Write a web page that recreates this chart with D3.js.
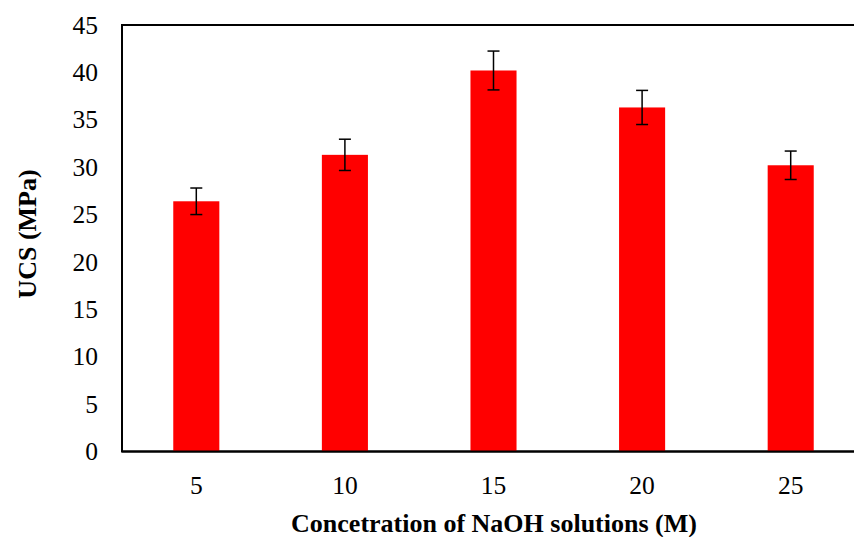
<!DOCTYPE html>
<html>
<head>
<meta charset="utf-8">
<script src="https://cdn.jsdelivr.net/npm/d3@7"></script>
<style>
  html, body { margin: 0; padding: 0; background: #fff; }
  svg { display: block; }
</style>
</head>
<body>
<svg id="chart" width="854" height="537" font-family="Liberation Serif, Times New Roman, DejaVu Serif, serif"></svg>
<script>
const categories = ["5", "10", "15", "20", "25"];
const ucsValues = [26.4, 31.3, 40.2, 36.3, 30.2];
const errorValues = [1.4, 1.65, 2.05, 1.8, 1.5];
const yTicks = [0, 5, 10, 15, 20, 25, 30, 35, 40, 45];
const xTitle = "Concetration of NaOH solutions (M)";
const yTitle = "UCS (MPa)";

(function () {
const FONT = "Liberation Serif, Times New Roman, DejaVu Serif, serif";
const svg = d3.select("#chart");
const pLeft = 122, pRight = 865, pTop = 25, pBottom = 451.5;

const x = d3.scaleBand().domain(categories).range([pLeft, pRight]).paddingInner(0.69).paddingOuter(0.345);
const y = d3.scaleLinear().domain([0, 45]).range([pBottom, pTop]);

// frame
svg.append("rect")
  .attr("x", pLeft).attr("y", pTop)
  .attr("width", 1000).attr("height", pBottom - pTop)
  .attr("fill", "none").attr("stroke", "#000").attr("stroke-width", 2);

// bars
svg.append("g").selectAll("rect").data(categories).join("rect")
  .attr("x", d => x(d))
  .attr("y", (d, i) => y(ucsValues[i]))
  .attr("width", x.bandwidth())
  .attr("height", (d, i) => y(0) - y(ucsValues[i]))
  .attr("fill", "#ff0000");

// error bars
const eg = svg.append("g").attr("stroke", "#000").attr("stroke-width", 1.5);
categories.forEach((c, i) => {
  const cx = x(c) + x.bandwidth() / 2;
  const y1 = y(ucsValues[i] + errorValues[i]);
  const y2 = y(ucsValues[i] - errorValues[i]);
  eg.append("line").attr("x1", cx).attr("x2", cx).attr("y1", y1).attr("y2", y2);
  eg.append("line").attr("x1", cx - 6).attr("x2", cx + 6).attr("y1", y1).attr("y2", y1);
  eg.append("line").attr("x1", cx - 6).attr("x2", cx + 6).attr("y1", y2).attr("y2", y2);
});

// axis lines on top
svg.append("line").attr("x1", pLeft).attr("x2", 854).attr("y1", pBottom).attr("y2", pBottom)
  .attr("stroke", "#000").attr("stroke-width", 2);
svg.append("line").attr("x1", pLeft).attr("x2", pLeft).attr("y1", pTop).attr("y2", pBottom)
  .attr("stroke", "#000").attr("stroke-width", 2);

// y axis labels
const yAxis = d3.axisLeft(y).tickValues(yTicks).tickSize(0).tickPadding(24);
const yg = svg.append("g").attr("transform", `translate(${pLeft},0)`).call(yAxis)
  .attr("font-family", FONT).attr("font-size", 25.5);
yg.select(".domain").remove();
yg.selectAll("text").attr("font-family", FONT).attr("font-size", 25.5).attr("fill", "#000");

// x axis labels
const xAxis = d3.axisBottom(x).tickSize(0).tickPadding(24);
const xg = svg.append("g").attr("transform", `translate(0,${pBottom})`).call(xAxis)
  .attr("font-family", FONT).attr("font-size", 25.5);
xg.select(".domain").remove();
xg.selectAll("text").attr("font-family", FONT).attr("font-size", 25.5).attr("fill", "#000");

// titles
svg.append("text")
  .attr("x", 494).attr("y", 531.5)
  .attr("text-anchor", "middle")
  .attr("font-family", FONT).attr("font-size", 26).attr("font-weight", "bold")
  .text(xTitle);

svg.append("text")
  .attr("transform", "translate(36,234) rotate(-90)")
  .attr("text-anchor", "middle")
  .attr("font-family", FONT).attr("font-size", 26).attr("font-weight", "bold")
  .text(yTitle);
})();
</script>
</body>
</html>
